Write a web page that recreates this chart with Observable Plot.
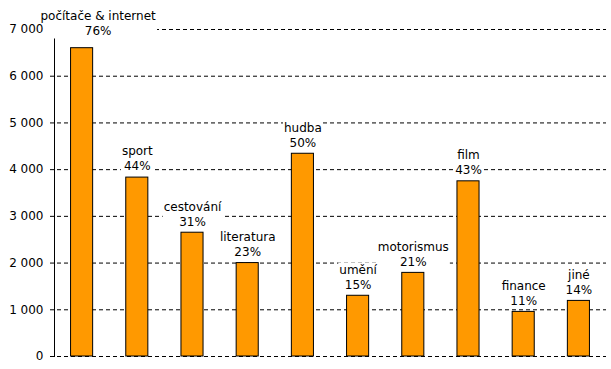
<!DOCTYPE html>
<html><head><meta charset="utf-8">
<script src="https://cdn.jsdelivr.net/npm/d3@7"></script>
<script src="https://cdn.jsdelivr.net/npm/@observablehq/plot@0.6"></script>
<style>body{margin:0;background:#fff} svg{display:block}</style>
</head><body><div id="chart"></div>
<script>
const categories = ["počítače & internet", "sport", "cestování", "literatura", "hudba", "umění", "motorismus", "film", "finance", "jiné"];
const values = [6600, 3830, 2650, 2000, 4340, 1300, 1790, 3750, 955, 1190];
const percents = [76, 44, 31, 23, 50, 15, 21, 43, 11, 14];
const yTicks = [0, 1000, 2000, 3000, 4000, 5000, 6000, 7000];

const data = categories.map((c, i) => ({category: c, value: values[i], pct: percents[i]}));
const fmt = d3.formatLocale({thousands: "\u00a0", grouping: [3], decimal: ","}).format(",");
const labelText = d => `${d.category}\n${d.pct}%`;
const labelOpts = {x: "category", y: "value", text: labelText, lineAnchor: "middle", lineHeight: 1.25, fill: "black", fontSize: 12, className: "lbl"};

const chart = Plot.plot({
  width: 611, height: 369,
  marginLeft: 54, marginRight: 5, marginTop: 29, marginBottom: 13,
  style: {fontFamily: "'DejaVu Sans', Verdana, sans-serif", fontSize: "12px", color: "black", background: "white"},
  x: {domain: categories, paddingInner: 0.6, paddingOuter: 0.3, align: 0.5, round: false, axis: null},
  y: {domain: [0, 7000], label: null, axis: null},
  marks: [
    Plot.ruleY(yTicks, {stroke: "black", strokeDasharray: "4,3", insetLeft: -4, strokeOpacity: 1}),
    Plot.frame({anchor: "left", stroke: "black", strokeOpacity: 1}),
    Plot.barY(data, {x: "category", y: "value", fill: "#FF9900", stroke: "black", strokeWidth: 1}),
    // the first (tallest) bar's label is nudged right/up, clear of the axis labels
    Plot.text(data.slice(0, 1), {...labelOpts, dx: 16, dy: -25}),
    Plot.text(data.slice(1), {...labelOpts, dy: -19.5}),
    Plot.axisY(yTicks, {tickSize: 0, tickPadding: 11, tickFormat: fmt, label: null, fontSize: 12, fill: "black"})
  ]
});
document.getElementById("chart").appendChild(chart);

// white background boxes behind label blocks (as in the original)
const ns = "http://www.w3.org/2000/svg";
chart.querySelectorAll("g.lbl").forEach(g => {
  const texts = Array.from(g.querySelectorAll("text"));
  const first = texts[0];
  texts.forEach(t => {
    const b = t.getBBox();
    const r = document.createElementNS(ns, "rect");
    r.setAttribute("x", b.x - 1);
    r.setAttribute("y", b.y);
    r.setAttribute("width", b.width + 2);
    r.setAttribute("height", b.height);
    r.setAttribute("fill", "white");
    r.setAttribute("stroke", "none");
    if (t.getAttribute("transform")) r.setAttribute("transform", t.getAttribute("transform"));
    g.insertBefore(r, first);
  });
});
</script>
</body></html>
